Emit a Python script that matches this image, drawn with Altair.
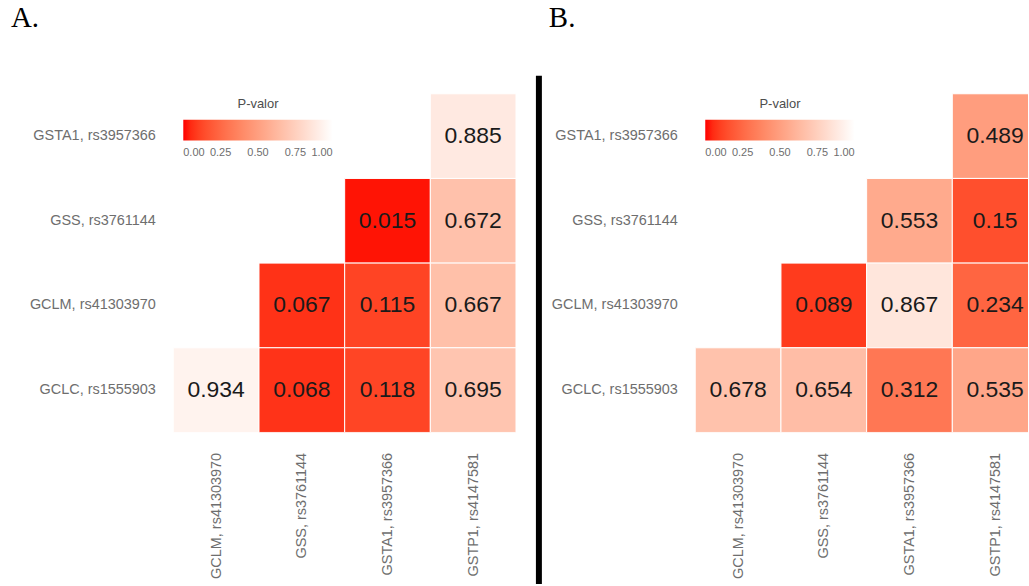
import json

import altair as alt
import pandas as pd

# Axis categories (rows top to bottom, columns left to right)
rows = ["GSTA1, rs3957366", "GSS, rs3761144", "GCLM, rs41303970", "GCLC, rs1555903"]
cols = ["GCLM, rs41303970", "GSS, rs3761144", "GSTA1, rs3957366", "GSTP1, rs4147581"]

# Cells of the triangular matrix (row gene, column gene)
cell_rows = [
    "GSTA1, rs3957366",
    "GSS, rs3761144", "GSS, rs3761144",
    "GCLM, rs41303970", "GCLM, rs41303970", "GCLM, rs41303970",
    "GCLC, rs1555903", "GCLC, rs1555903", "GCLC, rs1555903", "GCLC, rs1555903",
]
cell_cols = [
    "GSTP1, rs4147581",
    "GSTA1, rs3957366", "GSTP1, rs4147581",
    "GSS, rs3761144", "GSTA1, rs3957366", "GSTP1, rs4147581",
    "GCLM, rs41303970", "GSS, rs3761144", "GSTA1, rs3957366", "GSTP1, rs4147581",
]

# P-values of each interaction
p_a = [0.885, 0.015, 0.672, 0.067, 0.115, 0.667, 0.934, 0.068, 0.118, 0.695]
p_b = [0.489, 0.553, 0.15, 0.089, 0.867, 0.234, 0.678, 0.654, 0.312, 0.535]

legend_ticks = [0.0, 0.25, 0.5, 0.75, 1.0]

SANS = "Liberation Sans"
CELL = 86        # column width in pixels
GRID_H = 340


def panel(values, letter, second, view_w):
    idx = [cols.index(c) for c in cell_cols]
    df = pd.DataFrame({
        "fila": cell_rows,
        "c0": idx,
        "c1": [i + 1 for i in idx],
        "cm": [i + 0.5 for i in idx],
        "p": values,
        "etiqueta": [f"{v:g}" for v in values],
    })
    # columns laid out on a numeric axis so the right panel can be cut at the page edge
    xscale = alt.Scale(domain=[0, view_w / CELL], nice=False, zero=False)
    xaxis = alt.Axis(
        title=None, values=[i + 0.5 for i in range(len(cols))],
        labelExpr=f"{json.dumps(cols)}[floor(datum.value)]",
        labelAngle=270, ticks=False, domain=False, grid=False,
        labelPadding=20, labelFontSize=14.5, labelColor="#6e6e6e",
        labelFont=SANS, labelFlush=False, labelOverlap=False,
    )
    y = alt.Y(
        "fila:N",
        scale=alt.Scale(domain=rows, paddingInner=0, paddingOuter=0),
        axis=alt.Axis(title=None, ticks=False, domain=False, labelPadding=18,
                      labelFontSize=14.5, labelColor="#6e6e6e", labelFont=SANS,
                      grid=False),
    )
    color = alt.Color(
        "p:Q",
        scale=alt.Scale(domain=[0, 1], range=["#ff0000", "#ffffff"], interpolate="lab"),
        legend=alt.Legend(
            orient="none", legendX=10, legendY=4, direction="horizontal",
            gradientLength=150, gradientThickness=21, gradientStrokeWidth=0,
            title="P-valor", titleAnchor="middle", titleFontSize=13,
            titleFontWeight="normal", titleColor="#4d4d4d", titleFont=SANS,
            titlePadding=9, values=legend_ticks, format=".2f",
            labelFontSize=11, labelColor="#6e6e6e", labelFont=SANS,
            labelOffset=6, labelOverlap=False,
        ),
    )
    base = alt.Chart(df)
    rects = base.mark_rect(stroke="white", strokeWidth=1, clip=True).encode(
        x=alt.X("c0:Q", scale=xscale, axis=xaxis), x2="c1:Q", y=y, color=color
    )
    texts = base.mark_text(fontSize=23, font=SANS, color="#1a1a1a", clip=True).encode(
        x=alt.X("cm:Q", scale=xscale, axis=xaxis), y=y, text="etiqueta:N"
    )
    tag_df = pd.DataFrame({"t": [letter]})
    tag_x = -147 if second else -163
    tag = alt.Chart(tag_df).mark_text(
        font="Liberation Serif", fontSize=29, align="left", baseline="top", color="black"
    ).encode(x=alt.value(tag_x), y=alt.value(-90), text="t:N")
    layers = [rects, texts, tag]
    if second:
        # vertical separator between the two matrices
        sep = alt.Chart(tag_df).mark_rule(color="black", strokeWidth=6).encode(
            x=alt.value(-157), y=alt.value(-18), y2=alt.value(492)
        )
        layers.append(sep)
    return alt.layer(*layers).properties(width=view_w, height=GRID_H)


chart = (
    alt.hconcat(
        panel(p_a, "A.", False, 4 * CELL),
        panel(p_b, "B.", True, 334),
        spacing=18,
    )
    .resolve_scale(color="independent")
    .resolve_legend(color="independent")
    .properties(padding={"left": 10, "top": 2, "right": 0, "bottom": 0})
    .configure_view(stroke="transparent")
)

chart.save("out.html", embed_options={"renderer": "svg", "actions": False})
